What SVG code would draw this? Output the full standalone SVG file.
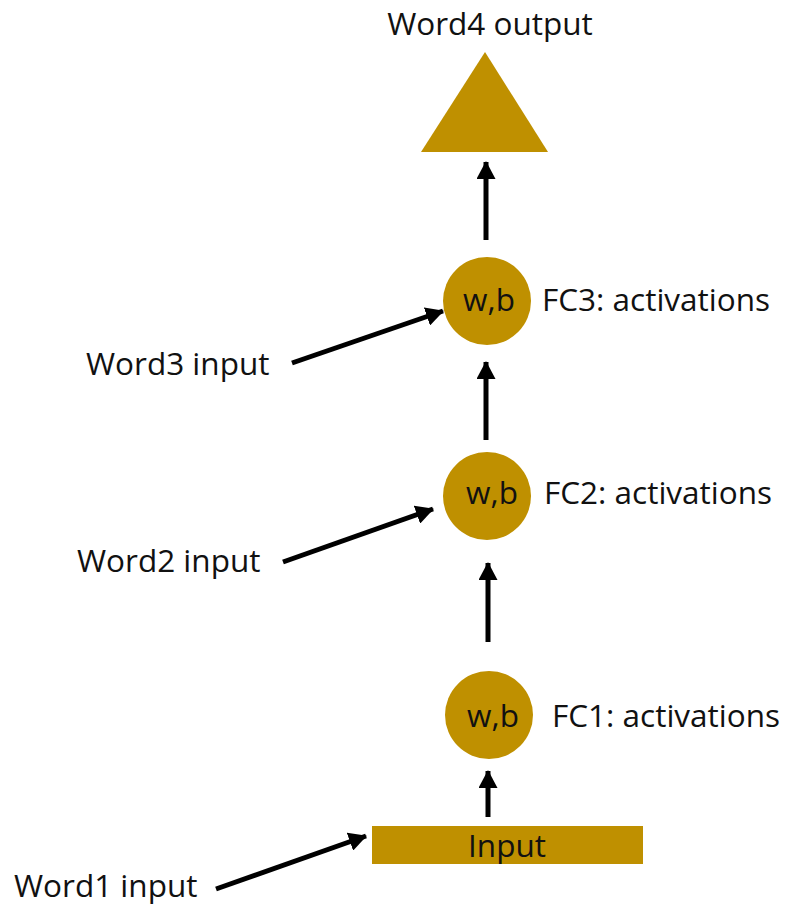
<svg xmlns="http://www.w3.org/2000/svg" width="788" height="907" viewBox="0 0 788 907">
  <defs>
    <marker id="arrowhead" markerUnits="userSpaceOnUse" markerWidth="19" markerHeight="19" refX="17" refY="9.5" orient="auto">
      <path d="M0,0 L18,9.5 L0,19 z" fill="#000"/>
    </marker>
    <style>
      .shape { fill: #BF9000; }
      .label { font-family: "Open Sans", "Noto Sans", sans-serif; font-size: 31.5px; fill: #111; }
      .edge { stroke: #000; stroke-width: 5; fill: none; marker-end: url(#arrowhead); }
    </style>
  </defs>
  <rect width="788" height="907" fill="#fff"/>

  <g id="connectors">
    <line class="edge" x1="488" y1="817" x2="488" y2="771"/>
    <line class="edge" x1="488" y1="642" x2="488" y2="563"/>
    <line class="edge" x1="486" y1="440" x2="486" y2="362"/>
    <line class="edge" x1="486" y1="240" x2="486" y2="162"/>
    <line class="edge" x1="216" y1="889" x2="366" y2="836"/>
    <line class="edge" x1="283" y1="562" x2="433" y2="509"/>
    <line class="edge" x1="292" y1="363" x2="443" y2="311"/>
  </g>

  <g id="output">
    <polygon class="shape" points="485,52 548,152 421,152"/>
    <text class="label" x="490" y="35" text-anchor="middle">Word4 output</text>
  </g>

  <g id="fc3">
    <circle class="shape" cx="487" cy="301" r="44"/>
    <text class="label" x="489" y="311" text-anchor="middle">w,b</text>
    <text class="label" x="542" y="311">FC3: activations</text>
  </g>

  <g id="fc2">
    <circle class="shape" cx="487" cy="496" r="44"/>
    <text class="label" x="492" y="504" text-anchor="middle">w,b</text>
    <text class="label" x="544" y="504">FC2: activations</text>
  </g>

  <g id="fc1">
    <circle class="shape" cx="489" cy="715" r="44"/>
    <text class="label" x="493" y="727" text-anchor="middle">w,b</text>
    <text class="label" x="552" y="727">FC1: activations</text>
  </g>

  <g id="input">
    <rect class="shape" x="372" y="826" width="271" height="38"/>
    <text class="label" x="507" y="857" text-anchor="middle">Input</text>
  </g>

  <g id="word3">
    <text class="label" x="86" y="375">Word3 input</text>
  </g>
  <g id="word2">
    <text class="label" x="77" y="572">Word2 input</text>
  </g>
  <g id="word1">
    <text class="label" x="14" y="897">Word1 input</text>
  </g>
</svg>
